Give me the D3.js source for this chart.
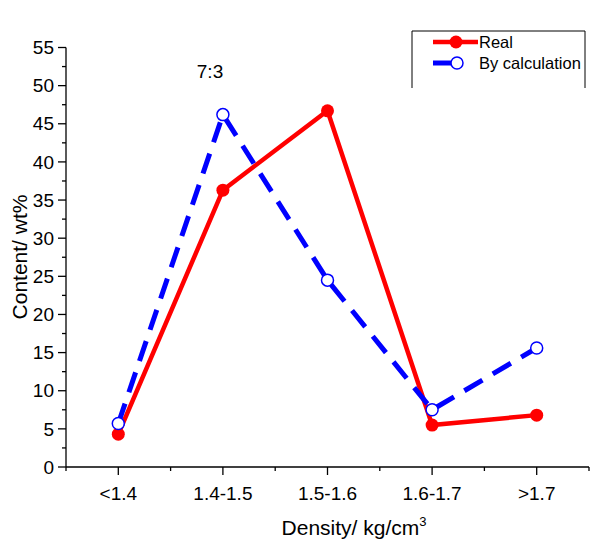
<!DOCTYPE html>
<html>
<head>
<meta charset="utf-8">
<script src="https://cdn.jsdelivr.net/npm/d3@7"></script>
<style>
body{margin:0;background:#fff;}
text{font-family:Arial,"Liberation Sans",sans-serif;fill:#000;}
</style>
</head>
<body>
<svg id="c" width="597" height="548"></svg>
<script>
const categories = ["<1.4","1.4-1.5","1.5-1.6","1.6-1.7",">1.7"];
const realValues = [4.3, 36.3, 46.7, 5.5, 6.8];
const calcValues = [5.7, 46.2, 24.5, 7.5, 15.6];
const yTicks = [0,5,10,15,20,25,30,35,40,45,50,55];

(function(){
const svg = d3.select("#c");
const pL = 66, pR = 589, pT = 47.5, pB = 467;

const x = d3.scaleLinear().domain([-0.5, 4.5]).range([pL, pR]);
const y = d3.scaleLinear().domain([0, 55]).range([pB, pT]);

// Y axis
const yAxis = svg.append("g").attr("transform", `translate(${pL},0)`);
yAxis.append("line").attr("y1", y(0)).attr("y2", y(55)).attr("stroke","#000").attr("stroke-width",1.3);
const yMinor = d3.range(0, 55.01, 2.5);
yAxis.selectAll("line.tk").data(yMinor).enter().append("line")
  .attr("class","tk")
  .attr("x1", d => (d % 5 === 0) ? -8 : -4).attr("x2", 0)
  .attr("y1", d => y(d)).attr("y2", d => y(d))
  .attr("stroke","#000").attr("stroke-width",1.3);
yAxis.selectAll("text").data(yTicks).enter().append("text")
  .attr("x", -12).attr("y", d => y(d)).attr("dy","0.35em")
  .attr("text-anchor","end").attr("font-size",19).text(d => d);

// X axis
const xAxis = svg.append("g").attr("transform", `translate(0,${pB})`);
xAxis.append("line").attr("x1", pL).attr("x2", pR).attr("stroke","#000").attr("stroke-width",1.3);
const xMinor = d3.range(-0.5, 4.51, 0.5);
xAxis.selectAll("line.tk").data(xMinor).enter().append("line")
  .attr("class","tk")
  .attr("x1", d => x(d)).attr("x2", d => x(d))
  .attr("y1", 0).attr("y2", d => Number.isInteger(d) ? 8 : 4)
  .attr("stroke","#000").attr("stroke-width",1.3);
xAxis.selectAll("text").data(categories).enter().append("text")
  .attr("x", (d,i) => x(i)).attr("y", 33)
  .attr("text-anchor","middle").attr("font-size",19).text(d => d);

// Axis titles
const xt = svg.append("text").attr("x", 354).attr("y", 535).attr("text-anchor","middle").attr("font-size",21);
xt.append("tspan").text("Density/ kg/cm");
xt.append("tspan").attr("font-size",13).attr("dy",-9).text("3");
svg.append("text").attr("transform","translate(20,257) rotate(-90)")
  .attr("text-anchor","middle").attr("dy","0.35em").attr("font-size",21).text("Content/ wt%");

// Annotation
svg.append("text").attr("x", 210).attr("y", 78).attr("text-anchor","middle").attr("font-size",19).text("7:3");

// Lines
const line = d3.line().x((d,i) => x(i)).y(d => y(d));
svg.append("path").datum(realValues).attr("d", line)
  .attr("fill","none").attr("stroke","#ff0000").attr("stroke-width",4.5).attr("stroke-linejoin","miter");
svg.selectAll("circle.real").data(realValues).enter().append("circle")
  .attr("class","real").attr("cx",(d,i)=>x(i)).attr("cy",d=>y(d)).attr("r",6.5).attr("fill","#ff0000");

svg.append("path").datum(calcValues).attr("d", line)
  .attr("fill","none").attr("stroke","#0000ff").attr("stroke-width",5).attr("stroke-dasharray","21,12");
svg.selectAll("circle.calc").data(calcValues).enter().append("circle")
  .attr("class","calc").attr("cx",(d,i)=>x(i)).attr("cy",d=>y(d)).attr("r",6)
  .attr("fill","#fff").attr("stroke","#0000ff").attr("stroke-width",1.5);

// Legend
const lg = svg.append("g");
lg.append("path").attr("d","M412,88V31H585V88").attr("fill","none").attr("stroke","#000").attr("stroke-width",1);
lg.append("line").attr("x1",433).attr("x2",478).attr("y1",42).attr("y2",42).attr("stroke","#ff0000").attr("stroke-width",4.5);
lg.append("circle").attr("cx",456).attr("cy",42).attr("r",6.5).attr("fill","#ff0000");
lg.append("text").attr("x",479).attr("y",42).attr("dy","0.35em").attr("font-size",16.5).text("Real");
lg.append("line").attr("x1",433).attr("x2",452).attr("y1",63).attr("y2",63).attr("stroke","#0000ff").attr("stroke-width",5);
lg.append("circle").attr("cx",457).attr("cy",63).attr("r",6).attr("fill","#fff").attr("stroke","#0000ff").attr("stroke-width",1.5);
lg.append("text").attr("x",479).attr("y",63).attr("dy","0.35em").attr("font-size",16.5).text("By calculation");
})();
</script>
</body>
</html>
